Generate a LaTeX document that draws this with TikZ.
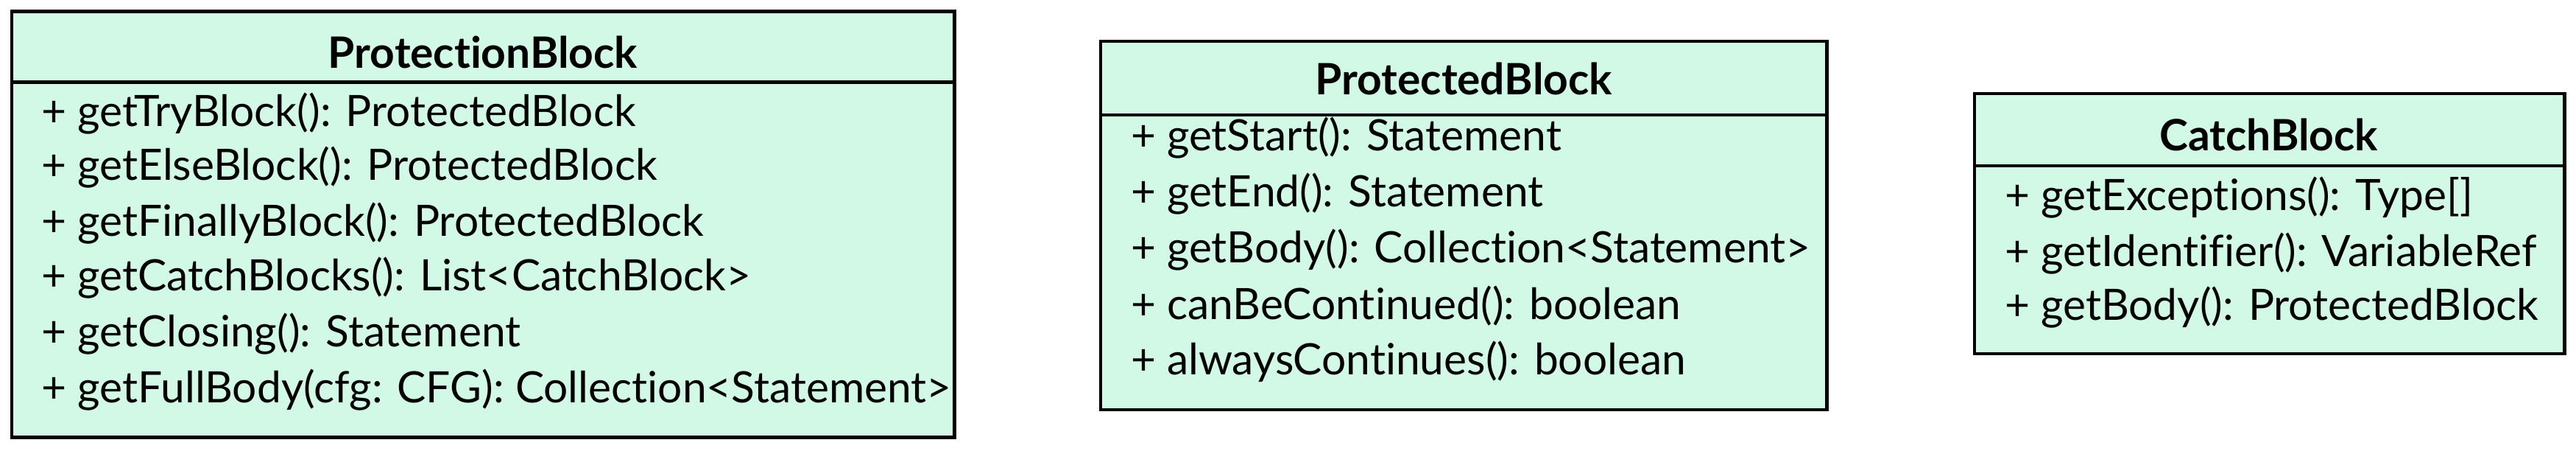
\documentclass[tikz,border=0pt]{standalone}
\usepackage{fontspec}
\setmainfont{Lato}[Ligatures={NoCommon}]
\usetikzlibrary{positioning}
\definecolor{classfill}{HTML}{D2F8E6}
\tikzset{
  classbox/.style={draw, line width=1.2pt, fill=classfill, inner sep=0pt},
  classname/.style={font=\fontsize{16.7}{20}\selectfont\bfseries},
  member/.style={anchor=west, inner sep=0pt, font=\fontsize{16.7}{20}\selectfont}
}
\begin{document}
\begin{tikzpicture}[x=0.02232cm, y=-0.02232cm]
    \useasboundingbox (0,0) rectangle (1568,274);
    \begin{scope}
      % ProtectionBlock
      \node(protection)[classbox, minimum width=574*0.02232cm, minimum height=259*0.02232cm] at (294,136.5) {};
      \node(protectiontitle)[classname] at (294,32) {ProtectionBlock};
      \draw[line width=1.2pt] (protection.west |- 0,50) -- (protection.east |- 0,50);
      \node(tryblock)     [member] at (25,69)  {+ getTryBlock(): ProtectedBlock};
      \node(elseblock)    [member] at (25,102) {+ getElseBlock(): ProtectedBlock};
      \node(finallyblock) [member] at (25,136) {+ getFinallyBlock(): ProtectedBlock};
      \node(catchblocks)  [member] at (25,169) {+ getCatchBlocks(): List<CatchBlock>};
      \node(closing)      [member] at (25,203) {+ getClosing(): Statement};
      \node(fullbody)     [member] at (25,237) {+ getFullBody(cfg: CFG): Collection<Statement>};
    \end{scope}
    \begin{scope}
      % ProtectedBlock
      \node(protected)[classbox, minimum width=442*0.02232cm, minimum height=224*0.02232cm] at (891,137) {};
      \node(protectedtitle)[classname] at (891,48) {ProtectedBlock};
      \draw[line width=1.2pt] (protected.west |- 0,70) -- (protected.east |- 0,70);
      \node(start)     [member] at (688,84)  {+ getStart(): Statement};
      \node(end)       [member] at (688,118) {+ getEnd(): Statement};
      \node(body)      [member] at (688,152) {+ getBody(): Collection<Statement>};
      \node(continued) [member] at (688,186) {+ canBeContinued(): boolean};
      \node(continues) [member] at (688,220) {+ alwaysContinues(): boolean};
    \end{scope}
    \begin{scope}
      % CatchBlock
      \node(catch)[classbox, minimum width=359*0.02232cm, minimum height=158*0.02232cm] at (1381.5,136) {};
      \node(catchtitle)[classname] at (1381,82) {CatchBlock};
      \draw[line width=1.2pt] (catch.west |- 0,101) -- (catch.east |- 0,101);
      \node(exceptions) [member] at (1220,120) {+ getExceptions(): Type[]};
      \node(identifier) [member] at (1220,154) {+ getIdentifier(): VariableRef};
      \node(catchbody)  [member] at (1220,187) {+ getBody(): ProtectedBlock};
    \end{scope}
\end{tikzpicture}
\end{document}
